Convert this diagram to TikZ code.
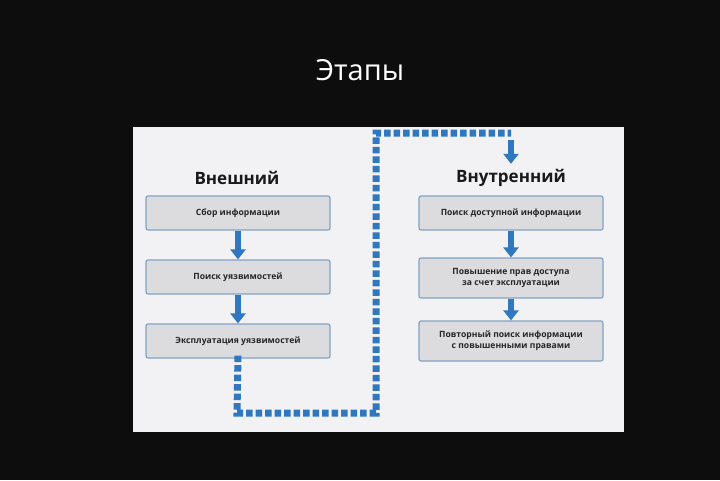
\documentclass[tikz,border=0pt]{standalone}
\usepackage{fontspec}
\setmainfont{Open Sans}
\usetikzlibrary{arrows.meta}
\definecolor{ablue}{HTML}{2F78C0}
\definecolor{bfill}{HTML}{DCDCDE}
\definecolor{bdraw}{HTML}{7FA3C6}
\definecolor{panel}{HTML}{F2F2F4}
\begin{document}
\begin{tikzpicture}[x=1pt,y=-1pt,
  stepbox/.style={draw=bdraw,line width=1.2pt,fill=bfill,rounded corners=2pt,minimum width=184pt,align=center,font=\bfseries\fontsize{8.6}{11}\selectfont,text=black!85},
  head/.style={font=\bfseries\fontsize{17}{20}\selectfont,text=black!90},
  fat/.style={ablue,line width=5.5pt,-{Triangle[width=15pt,length=10pt]}},
  dots/.style={ablue,line width=7pt,dash pattern=on 6.5pt off 3pt}]
\fill[black!95] (0,0) rectangle (720,480);
\useasboundingbox (0,0) rectangle (720,480);
\fill[panel] (133,127) rectangle (624,432);
\node[text=white,font=\fontsize{29}{34}\selectfont] (t) at (360,70) {Этапы};
\node[head] (h1) at (237,178) {Внешний};
\node[head] (h2) at (511,178) {Внутренний};
\node[stepbox,minimum height=34pt] (a1) at (238,213) {Сбор информации};
\node[stepbox,minimum height=34pt] (a2) at (238,277) {Поиск уязвимостей};
\node[stepbox,minimum height=34pt] (a3) at (238,341) {Эксплуатация уязвимостей};
\node[stepbox,minimum height=34pt] (b1) at (511,213) {Поиск доступной информации};
\node[stepbox,minimum height=40pt] (b2) at (511,278) {Повышение прав доступа\\за счет эксплуатации};
\node[stepbox,minimum height=40pt] (b3) at (511,341) {Повторный поиск информации\\с повышенными правами};
\draw[fat] (a1) -- (a2);
\draw[fat] (a2) -- (a3);
\draw[fat] (b1) -- (b2);
\draw[fat] (b2) -- (b3);
\coordinate (p1) at (237,413);
\coordinate (p2) at (376,413);
\coordinate (p3) at (376,133);
\coordinate (p4) at (511,133);
\coordinate (p5) at (511,140);
\draw[dots] ([yshift=3pt]a3.south) -- (p1) -- (p2) -- (p3) -- (p4);
\draw[fat] (p5) -- ([yshift=2pt]h2.north);
\end{tikzpicture}
\end{document}
